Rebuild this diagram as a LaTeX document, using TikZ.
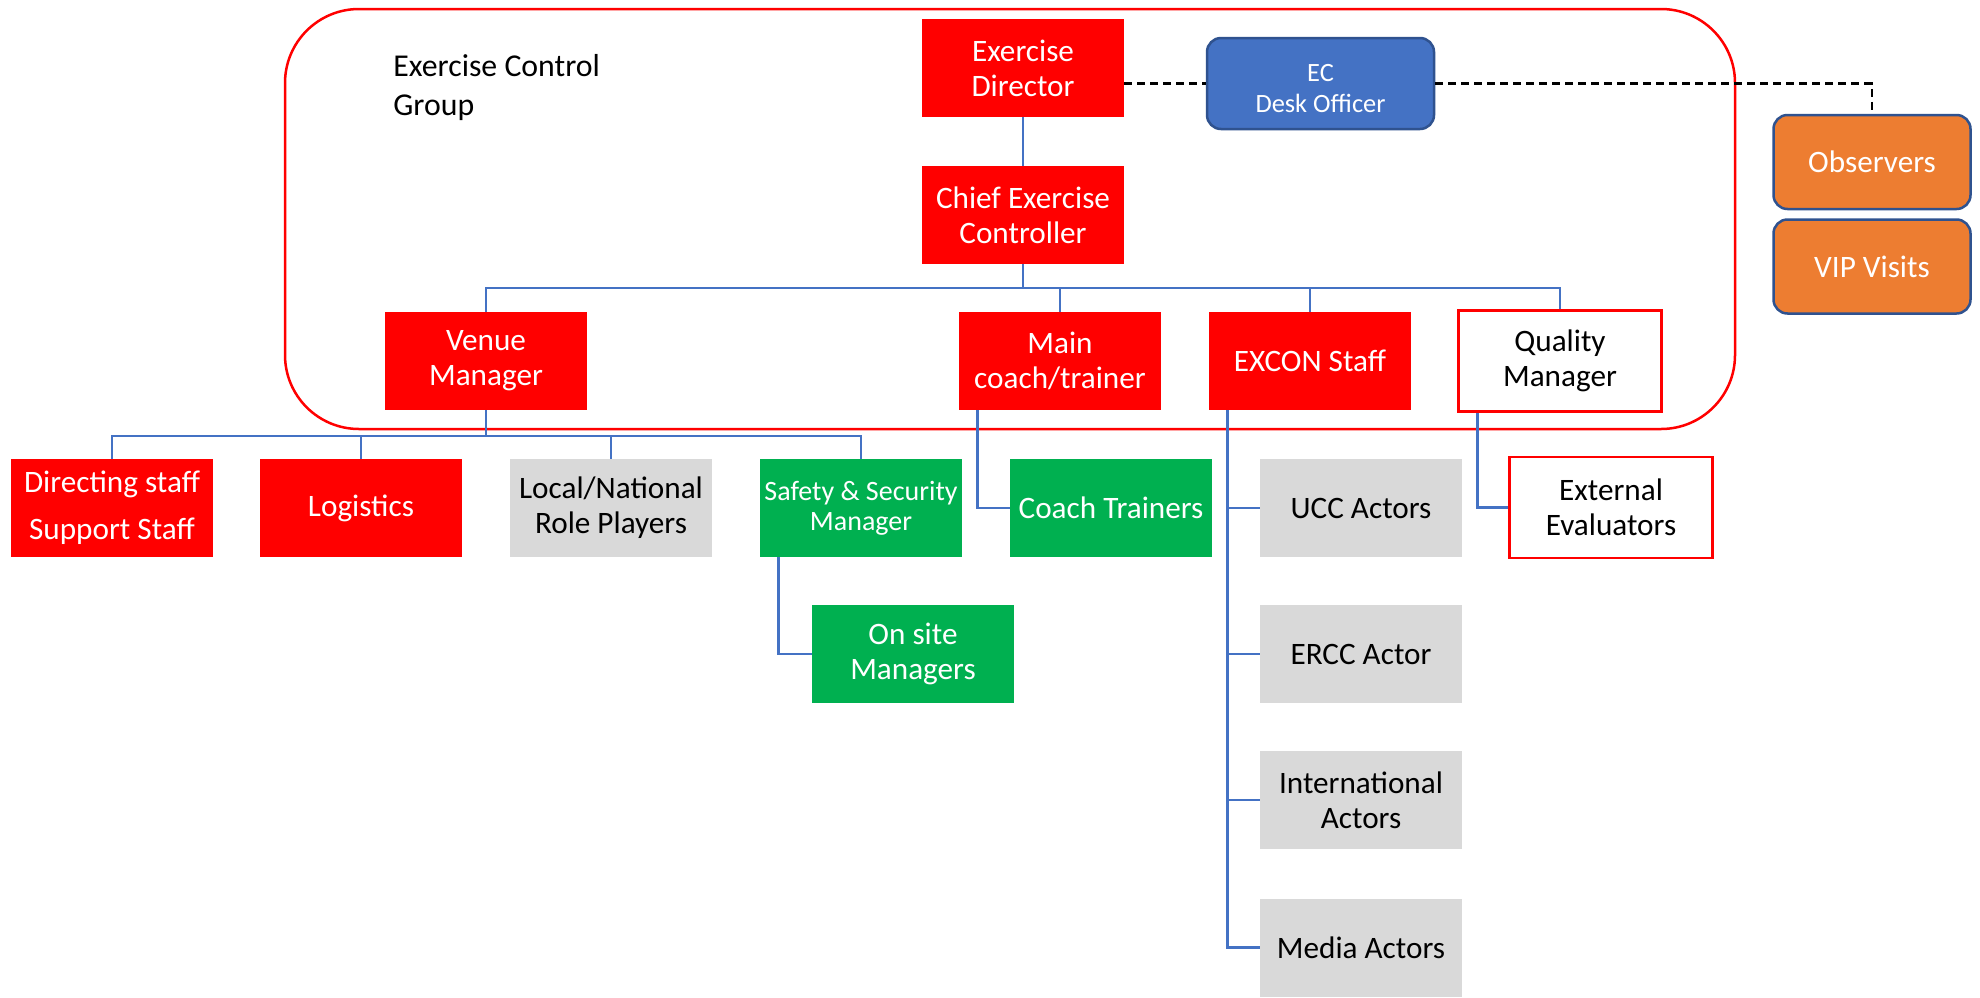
\documentclass[tikz,border=0pt]{standalone}
\usepackage{fontspec}
\setmainfont{Carlito}
\usetikzlibrary{calc}
\definecolor{cred}{HTML}{FF0000}
\definecolor{cgreen}{HTML}{00B050}
\definecolor{cgray}{HTML}{D9D9D9}
\definecolor{cblue}{HTML}{4472C4}
\definecolor{cdblue}{HTML}{2F528F}
\definecolor{corange}{HTML}{ED7D31}
\begin{document}
\begin{tikzpicture}[x=0.5pt,y=-0.5pt,
  box/.style={rectangle, minimum width=101pt, minimum height=49pt, inner sep=0pt, align=center, font=\fontsize{15.6pt}{17.5pt}\selectfont},
  redbox/.style={box, fill=cred, text=white},
  greenbox/.style={box, fill=cgreen, text=white},
  graybox/.style={box, fill=cgray, text=black},
  outbox/.style={box, draw=cred, line width=1.25pt, fill=white, text=black, minimum width=101.5pt, minimum height=50.5pt},
  roundbox/.style={box, rounded corners=7pt, draw=cdblue, line width=1.25pt, text=white},
  conn/.style={draw=cblue, line width=1.4pt},
  dsh/.style={draw=black, line width=1.2pt, dash pattern=on 4pt off 2.5pt},
  group/.style={draw=cred, line width=1.25pt, rounded corners=37pt}
]
\useasboundingbox (0,0) rectangle (1980,997);
\fill[white] (0,0) rectangle (1980,997);

% group container
\draw[group] (285,9) rectangle (1735,429);
\node[anchor=west, align=left, inner sep=0pt, font=\fontsize{15.9pt}{19.5pt}\selectfont] (ecg) at (393,88) {Exercise Control\\Group};

% top
\node[redbox] (ed) at (1023,68) {Exercise\\Director};
\node[redbox] (cec) at (1023,215) {Chief Exercise\\Controller};
\node[roundbox, fill=cblue, minimum width=113.5pt, minimum height=45.5pt] (dsk) at (1320.5,83.5) {};
\node[align=center, inner sep=0pt, text=white, font=\fontsize{13.2pt}{15.8pt}\selectfont] (dsktxt) at (1320.5,88.5) {EC\\Desk Officer};
\node[roundbox, fill=corange, minimum width=98.5pt, minimum height=47pt] (obs) at (1872,162) {Observers};
\node[roundbox, fill=corange, minimum width=98.5pt, minimum height=47pt] (vip) at (1872,266.5) {VIP Visits};

% second level
\node[redbox] (vm) at (486,361) {Venue\\Manager};
\node[redbox] (mc) at (1060,361) {Main\\coach/trainer};
\node[redbox] (ex) at (1310,361) {EXCON Staff};
\node[outbox] (qm) at (1560,361) {Quality\\Manager};

% third level
\node[redbox] (ds) at (112,508) {Directing staff\\[6pt]Support Staff};
\node[redbox] (lg) at (361,508) {Logistics};
\node[graybox] (lr) at (611,508) {Local/National\\Role Players};
\node[greenbox, font=\fontsize{14pt}{15pt}\selectfont] (sm) at (861,508) {Safety \& Security\\Manager};
\node[greenbox] (ct) at (1111,508) {Coach Trainers};
\node[graybox] (ucc) at (1361,508) {UCC Actors};
\node[outbox] (ee) at (1611,507.5) {External\\Evaluators};
\node[greenbox] (os) at (913,654) {On site\\Managers};
\node[graybox] (ercc) at (1361,654) {ERCC Actor};
\node[graybox] (ia) at (1361,800) {International\\Actors};
\node[graybox] (ma) at (1361,947.5) {Media Actors};

% connectors
\draw[conn] (ed) -- (cec);
\coordinate (bus1) at (1023,288);
\draw[conn] (cec.south) -- (bus1);
\draw[conn] (vm.north) |- (qm.north |- bus1) -- (qm.north);
\draw[conn] (mc.north |- bus1) -- (mc.north);
\draw[conn] (ex.north |- bus1) -- (ex.north);

\coordinate (bus2) at (486,436);
\draw[conn] (vm.south) -- (bus2);
\draw[conn] (ds.north) |- (sm.north |- bus2) -- (sm.north);
\draw[conn] (lg.north |- bus2) -- (lg.north);
\draw[conn] (lr.north |- bus2) -- (lr.north);

\draw[conn] ($(mc.south west)+(19,0)$) |- (ct.west);
\coordinate (exl) at ($(ex.south west)+(19,0)$);
\draw[conn] (exl) |- (ma.west);
\draw[conn] (ucc.west) -- (ucc.west -| exl);
\draw[conn] (ercc.west) -- (ercc.west -| exl);
\draw[conn] (ia.west) -- (ia.west -| exl);
\draw[conn] ($(qm.south west)+(20,0)$) |- (ee.west);
\draw[conn] ($(sm.south west)+(19,0)$) |- (os.west);

\draw[dsh] (ed.east |- dsk.west) -- (dsk.west);
\draw[dsh] (dsk.east) -| (obs.north);
\end{tikzpicture}
\end{document}
